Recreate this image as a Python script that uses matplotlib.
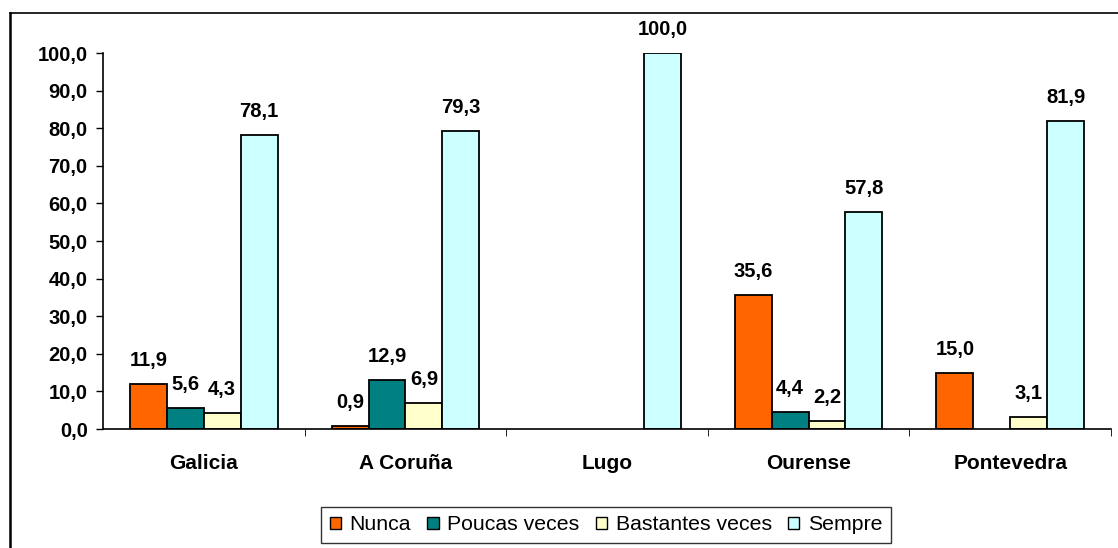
import matplotlib.pyplot as plt
import numpy as np
from matplotlib.lines import Line2D

plt.rcParams['font.family'] = ['Liberation Sans', 'DejaVu Sans']

categories = ["Galicia", "A Coruña", "Lugo", "Ourense", "Pontevedra"]
series = ["Nunca", "Poucas veces", "Bastantes veces", "Sempre"]
nunca = [11.9, 0.9, 0.0, 35.6, 15.0]
poucas = [5.6, 12.9, 0.0, 4.4, 0.0]
bastantes = [4.3, 6.9, 0.0, 2.2, 3.1]
sempre = [78.1, 79.3, 100.0, 57.8, 81.9]
colors = ["#FF6600", "#008080", "#FFFFCC", "#CCFFFF"]

FS = 14.5

fig = plt.figure(figsize=(11.18, 5.48), dpi=100)
ax = fig.add_axes([103 / 1118, 1 - 429 / 548, 1008 / 1118, 376 / 548])

# frame around the chart area (top and left edges only)
fig.add_artist(Line2D([10 / 1118, 1], [1 - 13 / 548, 1 - 13 / 548], color="black", lw=1.2))
fig.add_artist(Line2D([10 / 1118, 10 / 1118], [0, 1 - 13 / 548], color="black", lw=1.8))

x = np.arange(len(categories))
w = 0.183
values = [nunca, poucas, bastantes, sempre]
for i, (name, vals, c) in enumerate(zip(series, values, colors)):
    pos = x + (i - 1.5) * w
    lws = [1.3 if v > 0 else 0 for v in vals]
    ax.bar(pos, vals, w, color=c, edgecolor="black", linewidth=lws, label=name)
    for p, v in zip(pos, vals):
        if v > 0:
            ax.annotate(f"{v:.1f}".replace(".", ","), (p, v), xytext=(0, 13),
                        textcoords="offset points", ha="center", va="baseline",
                        fontsize=FS, fontweight="bold")

ax.set_xlim(-0.5, len(categories) - 0.5)
ax.set_ylim(0, 100)
ax.set_yticks(np.arange(0, 101, 10))
ax.set_yticklabels([f"{t:.1f}".replace(".", ",") for t in np.arange(0, 101, 10)],
                   fontsize=FS, fontweight="bold")
ax.set_xticks(x)
ax.set_xticklabels(categories, fontsize=15, fontweight="bold")
ax.tick_params(axis="x", length=0, pad=18)
ax.set_xticks(np.arange(0.5, len(categories), 1), minor=True)
ax.tick_params(axis="x", which="minor", length=5, direction="out")
ax.tick_params(axis="y", length=5, width=1, pad=6)
ax.spines["top"].set_visible(False)
ax.spines["right"].set_visible(False)
ax.spines["left"].set_linewidth(1.2)
ax.spines["bottom"].set_linewidth(1.2)

leg = fig.legend(loc="center", bbox_to_anchor=(606 / 1118, 1 - 525 / 548), ncol=4,
                 fontsize=15.3, frameon=True, fancybox=False, edgecolor="black",
                 handlelength=0.55, handleheight=0.55, handletextpad=0.4,
                 columnspacing=0.75, borderpad=0.4, borderaxespad=0)
leg.get_frame().set_linewidth(1.0)
for h in leg.legend_handles:
    h.set_linewidth(1.0)

fig.savefig("out.png", dpi=100)
